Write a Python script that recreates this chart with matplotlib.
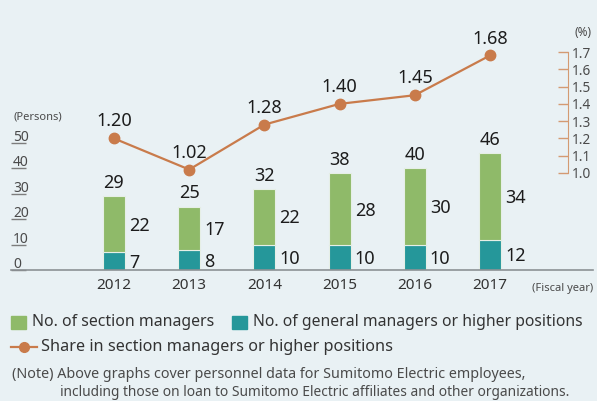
import matplotlib

matplotlib.use("Agg")
import matplotlib.pyplot as plt
from matplotlib.lines import Line2D
from matplotlib.patches import Rectangle

plt.rcParams["font.family"] = ["Noto Sans", "DejaVu Sans"]

# data
years = ["2012", "2013", "2014", "2015", "2016", "2017"]
section_managers = [22, 17, 22, 28, 30, 34]
general_managers = [7, 8, 10, 10, 10, 12]
totals = [29, 25, 32, 38, 40, 46]
share_pct = [1.20, 1.02, 1.28, 1.40, 1.45, 1.68]
persons_ticks = [0, 10, 20, 30, 40, 50]
pct_ticks = [1.0, 1.1, 1.2, 1.3, 1.4, 1.5, 1.6, 1.7]

BG = "#e9f1f4"
GREEN = "#8fba69"
TEAL = "#25979a"
ORANGE = "#c97b4b"
TEXT = "#1c1c1c"
GREY = "#4a4a4a"

W, H = 597, 401


def fx(px):
    return px / W


def fy(py):
    return 1 - py / H


fig = plt.figure(figsize=(W / 100, H / 100), dpi=100, facecolor=BG)

# main axes: baseline at y=270px, spans x 11..593px
ax = fig.add_axes([fx(11), fy(270), fx(593) - fx(11), 250 / H])
ax.set_facecolor("none")
step = 75.2
ax.set_xlim((11 - 114) / step, (593 - 114) / step)
ax.set_ylim(0, 250 / 2.54)

x = list(range(len(years)))
bar_w = 0.29
ax.bar(x, general_managers, width=bar_w, color=TEAL, edgecolor="#e6efe6", linewidth=0.8)
ax.bar(x, section_managers, width=bar_w, bottom=general_managers, color=GREEN,
       edgecolor="#e6efe6", linewidth=0.8)

for i in x:
    ax.annotate(str(totals[i]), (i, totals[i]), xytext=(0, 5.8), textcoords="offset points",
                ha="center", va="baseline", fontsize=13, color=TEXT)
    mid_sec = general_managers[i] + section_managers[i] / 2
    ax.annotate(str(section_managers[i]), (i + bar_w / 2, mid_sec), xytext=(3, -4.8),
                textcoords="offset points", ha="left", va="baseline", fontsize=13, color=TEXT)
    ax.annotate(str(general_managers[i]), (i + bar_w / 2, general_managers[i] / 2),
                xytext=(3, -4.8), textcoords="offset points", ha="left", va="baseline",
                fontsize=13, color=TEXT)

for s in ("top", "right", "left"):
    ax.spines[s].set_visible(False)
ax.spines["bottom"].set_color("#8c9194")
ax.spines["bottom"].set_linewidth(1.2)
ax.set_xticks(x, years)
ax.tick_params(axis="x", length=0, pad=6, labelsize=11, labelcolor="#333333")
ax.set_yticks(persons_ticks)
ax.tick_params(axis="y", direction="in", length=10.8, width=1, color="#7d7d7d", labelleft=False)
for v in persons_ticks:
    ax.annotate(str(v), (0, v), xycoords=ax.get_yaxis_transform(), xytext=(1.5, 1.5),
                textcoords="offset points", ha="left", va="baseline", fontsize=10, color=GREY)

# share line on its own scale: 1.0 at 173px, 1.7 at 52px
ax2 = ax.twinx()
ax2.set_facecolor("none")
ppu = 121 / 0.7
ax2.set_ylim(1.0 - (270 - 173) / ppu, 1.0 + (173 - 20) / ppu)
ax2.plot(x, share_pct, color=ORANGE, lw=1.6, marker="o", ms=7.5, zorder=3)
for i, v in zip(x, share_pct):
    ax2.annotate(f"{v:.2f}", (i, v), xytext=(0, 8.6), textcoords="offset points",
                 ha="center", va="baseline", fontsize=13, color=TEXT)
for s in ("top", "left", "bottom"):
    ax2.spines[s].set_visible(False)
ax2.spines["right"].set_position(("axes", (568 - 11) / (593 - 11)))
ax2.spines["right"].set_bounds(1.0, 1.7)
ax2.spines["right"].set_color("#d49a72")
ax2.set_yticks(pct_ticks, [f"{t:.1f}" for t in pct_ticks])
ax2.tick_params(axis="y", direction="in", length=7.2, width=1, color="#d49a72", pad=3,
                labelsize=9.8, labelcolor=GREY)

fig.text(fx(583), fy(33), "(%)", ha="center", va="center", fontsize=8.5, color=GREY)
fig.text(fx(13), fy(117), "(Persons)", ha="left", va="center", fontsize=8, color=GREY)
fig.text(fx(532), fy(288), "(Fiscal year)", ha="left", va="center", fontsize=8, color=GREY)

# legend
fig.add_artist(Rectangle((fx(11), fy(329)), 15 / W, 13 / H, transform=fig.transFigure,
                         color=GREEN))
fig.text(fx(32), fy(322), "No. of section managers", ha="left", va="center",
         fontsize=11.4, color="#333333")
fig.add_artist(Rectangle((fx(232), fy(329)), 15 / W, 13 / H, transform=fig.transFigure,
                         color=TEAL))
fig.text(fx(253), fy(322), "No. of general managers or higher positions", ha="left",
         va="center", fontsize=11.3, color="#333333")
fig.add_artist(Line2D([fx(11), fx(37)], [fy(347), fy(347)], transform=fig.transFigure,
                      color=ORANGE, lw=1.6))
fig.add_artist(Line2D([fx(24)], [fy(347)], transform=fig.transFigure, color=ORANGE,
                      marker="o", ms=7))
fig.text(fx(41), fy(347), "Share in section managers or higher positions", ha="left",
         va="center", fontsize=11.7, color="#333333")

fig.text(fx(12), fy(375), "(Note) Above graphs cover personnel data for Sumitomo Electric employees,",
         ha="left", va="center", fontsize=10.3, color=GREY)
fig.text(fx(60), fy(392), "including those on loan to Sumitomo Electric affiliates and other organizations.",
         ha="left", va="center", fontsize=9.9, color=GREY)

fig.savefig("out.png", dpi=100, facecolor=BG)
